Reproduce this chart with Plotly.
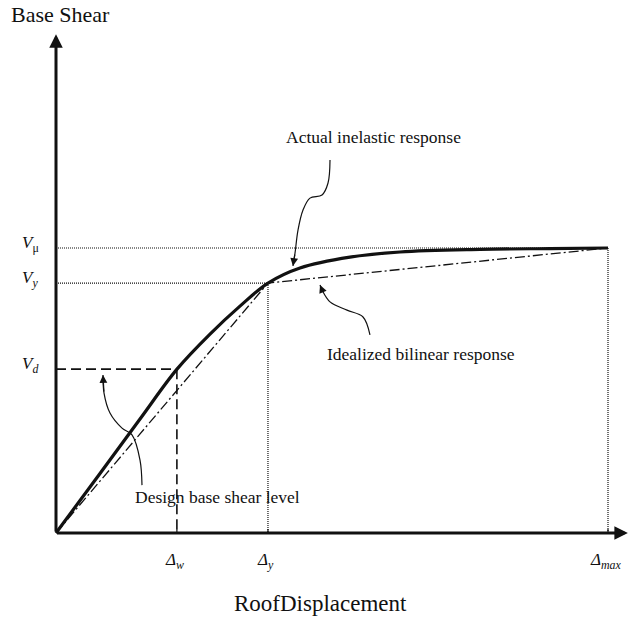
import plotly.graph_objects as go

# ---- data (schematic units) ----
D_w, D_y, D_max = 2.19, 3.84, 10.0
V_d, V_y, V_mu = 0.575, 0.877, 1.0

# actual inelastic response curve
actual_x = [0, 0.797, 1.522, 2.192, 2.790, 3.333, 3.841, 4.420, 5.326, 6.232, 7.681, 8.949, 10.0]
actual_y = [0, 0.209, 0.400, 0.575, 0.698, 0.796, 0.877, 0.930, 0.968, 0.986, 0.995, 0.998, 1.0]

# idealized bilinear response
bilin_x = [0, D_y, D_max]
bilin_y = [0, V_y, V_mu]

# callout leader paths
lead_actual_x = [4.964, 4.928, 4.819, 4.601, 4.475, 4.384, 4.330, 4.293]
lead_actual_y = [1.309, 1.228, 1.186, 1.175, 1.133, 1.063, 0.982, 0.937]
lead_ideal_x = [5.688, 5.562, 5.272, 4.964, 4.819, 4.783]
lead_ideal_y = [0.695, 0.758, 0.782, 0.811, 0.853, 0.870]
lead_design_x = [1.558, 1.522, 1.377, 1.196, 0.978, 0.870, 0.851]
lead_design_y = [0.168, 0.256, 0.344, 0.368, 0.421, 0.491, 0.554]

x_ticks = [D_w, D_y, D_max]
x_tick_labels = ["<i>Δ<sub>w</sub></i>", "<i>Δ<sub>y</sub></i>", "<i>Δ<sub>max</sub></i>"]
y_ticks = [V_mu, V_y, V_d]
y_tick_labels = ["<i>V</i><sub>μ</sub>", "<i>V<sub>y</sub></i>", "<i>V<sub>d</sub></i>"]

X_END, Y_END = 10.36, 1.75
XR = [-1.0145, 10.3986]
YR = [-0.3158, 1.8702]

FONT = "Liberation Serif, Times New Roman, serif"
INK = "#111111"

fig = go.Figure()

def line(x, y, width, dash="solid", shape="linear", color=INK):
    fig.add_trace(go.Scatter(x=x, y=y, mode="lines", hoverinfo="skip",
                             line=dict(color=color, width=width, dash=dash, shape=shape)))

# reference lines
line([0, D_max], [V_mu, V_mu], 1.2, "1px,1px")
line([0, D_y], [V_y, V_y], 1.2, "1px,1px")
line([D_y, D_y], [V_y, 0], 1.2, "1px,1px")
line([D_max, D_max], [V_mu, 0], 1.2, "1px,1px")
line([0, D_w], [V_d, V_d], 1.6, "10px,5px")
line([D_w, D_w], [V_d, 0], 1.6, "10px,5px")

# responses
line(bilin_x, bilin_y, 1.3, "10px,3px,2px,3px")
line(actual_x, actual_y, 3.2, "solid", "spline")

# leaders
line(lead_actual_x, lead_actual_y, 1.2, "solid", "spline")
line(lead_ideal_x, lead_ideal_y, 1.2, "solid", "spline")
line(lead_design_x, lead_design_y, 1.2, "solid", "spline")

# tick marks
tx, ty = [], []
for t in x_ticks:
    tx += [t, t, None]
    ty += [0, 0.014, None]
line(tx, ty, 1.2)

ann = []
# axes with arrows
ann.append(dict(x=0, y=Y_END, ax=0, ay=0, axref="x", ayref="y", xref="x", yref="y",
                showarrow=True, arrowhead=2, arrowsize=0.9, arrowwidth=3, arrowcolor=INK, text=""))
ann.append(dict(x=X_END, y=0, ax=-0.01, ay=0, axref="x", ayref="y", xref="x", yref="y",
                showarrow=True, arrowhead=2, arrowsize=0.9, arrowwidth=3, arrowcolor=INK, text=""))

# leader arrowheads
for xs, ys in [(lead_actual_x, lead_actual_y), (lead_ideal_x, lead_ideal_y), (lead_design_x, lead_design_y)]:
    ann.append(dict(x=xs[-1], y=ys[-1], ax=xs[-2], ay=ys[-2], axref="x", ayref="y", xref="x", yref="y",
                    showarrow=True, arrowhead=2, arrowsize=1.3, arrowwidth=1.2, arrowcolor=INK, text=""))

# tick labels
for t, lab in zip(x_ticks, x_tick_labels):
    ann.append(dict(x=t, y=0, xref="x", yref="y", yshift=-28, xshift=-2, text=lab, showarrow=False,
                    font=dict(family=FONT, size=17, color=INK)))
for t, lab in zip(y_ticks, y_tick_labels):
    ann.append(dict(x=0, y=t, xref="x", yref="y", xshift=-26, yshift=4, text=lab, showarrow=False,
                    font=dict(family=FONT, size=17, color=INK)))

# titles and callout texts
ann.append(dict(x=0, y=1, xref="paper", yref="paper", xanchor="left", yanchor="top",
                text="Base Shear", showarrow=False, xshift=9, yshift=0,
                font=dict(family=FONT, size=22, color=INK)))
ann.append(dict(x=(XR[0] + XR[1]) / 2, y=0, xref="x", yref="paper", yanchor="bottom",
                text="RoofDisplacement", showarrow=False, xshift=5, yshift=5,
                font=dict(family=FONT, size=23, color=INK)))
ann.append(dict(x=lead_actual_x[0], y=lead_actual_y[0], xref="x", yref="y", yanchor="bottom",
                text="Actual inelastic response", showarrow=False, xshift=43, yshift=11,
                font=dict(family=FONT, size=17.5, color=INK)))
ann.append(dict(x=lead_ideal_x[0], y=lead_ideal_y[0], xref="x", yref="y", yanchor="top",
                text="Idealized bilinear response", showarrow=False, xshift=51, yshift=-7,
                font=dict(family=FONT, size=17.5, color=INK)))
ann.append(dict(x=lead_design_x[0], y=lead_design_y[0], xref="x", yref="y", yanchor="middle",
                text="Design base shear level", showarrow=False, xshift=75, yshift=-12,
                font=dict(family=FONT, size=17.5, color=INK)))

fig.update_layout(
    width=630, height=623, autosize=False,
    margin=dict(l=0, r=0, t=0, b=0),
    paper_bgcolor="white", plot_bgcolor="white",
    showlegend=False,
    xaxis=dict(range=XR, visible=False, fixedrange=True),
    yaxis=dict(range=YR, visible=False, fixedrange=True),
    annotations=ann,
)

fig.write_html("out.html")
